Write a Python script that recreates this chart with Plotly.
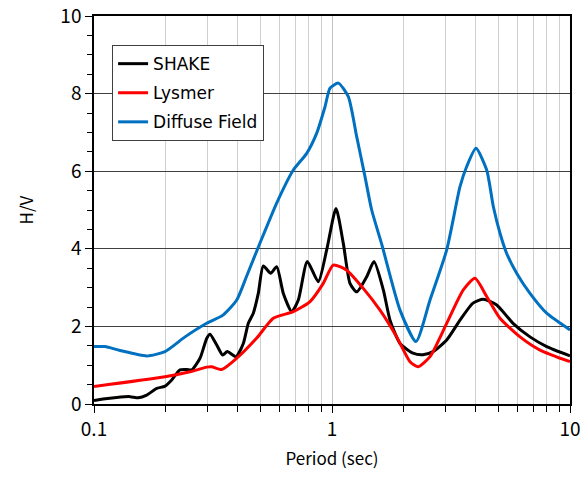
import plotly.graph_objects as go

# Period (sec) and H/V values
shake_T = [0.100, 0.1091, 0.1245, 0.1417, 0.1535, 0.1665, 0.1834, 0.1988, 0.2121, 0.2298,
           0.2452, 0.2573, 0.2789, 0.2975, 0.3071, 0.3278, 0.3474, 0.3632, 0.3951, 0.4240,
           0.4450, 0.4670, 0.4901, 0.5145, 0.5524, 0.5856, 0.6245, 0.6773, 0.7219, 0.7876,
           0.8758, 0.9498, 1.0394, 1.1156, 1.190, 1.270, 1.399, 1.501, 1.643, 1.753,
           1.931, 2.189, 2.412, 2.658, 3.033, 3.450, 3.911, 4.323, 4.921, 5.761,
           6.791, 7.98, 10.0]
shake_HV = [0.09, 0.13, 0.17, 0.19, 0.16, 0.23, 0.40, 0.46, 0.62, 0.88,
            0.89, 0.88, 1.18, 1.69, 1.80, 1.52, 1.26, 1.35, 1.22, 1.56,
            2.08, 2.34, 2.85, 3.56, 3.37, 3.54, 2.85, 2.38, 2.68, 3.67,
            3.15, 3.97, 5.04, 4.14, 3.11, 2.89, 3.28, 3.67, 2.94, 2.16,
            1.56, 1.31, 1.27, 1.35, 1.65, 2.16, 2.60, 2.70, 2.55, 2.08,
            1.73, 1.48, 1.24]

lysmer_T = [0.100, 0.1988, 0.2531, 0.2975, 0.3122, 0.344, 0.3978, 0.4827, 0.5666, 0.6878,
            0.8084, 0.919, 1.0127, 1.153, 1.353, 1.591, 1.870, 2.127, 2.305, 2.581,
            3.033, 3.562, 3.989, 4.467, 5.080, 6.166, 7.482, 10.0]
lysmer_HV = [0.45, 0.70, 0.83, 0.95, 0.96, 0.89, 1.18, 1.70, 2.21, 2.38,
             2.64, 3.11, 3.58, 3.45, 2.98, 2.42, 1.73, 1.09, 0.96, 1.22,
             2.08, 2.94, 3.24, 2.77, 2.21, 1.73, 1.39, 1.09]

diffuse_T = [0.100, 0.1112, 0.1286, 0.1665, 0.1988, 0.2413, 0.2975, 0.3483, 0.3978, 0.4382,
             0.4983, 0.5856, 0.6878, 0.7830, 0.8625, 0.9346, 0.9809, 1.0629, 1.1709, 1.270,
             1.376, 1.468, 1.6176, 1.931, 2.254, 2.581, 3.033, 3.450, 3.681, 4.027,
             4.467, 4.762, 5.080, 5.420, 5.970, 6.791, 7.98, 10.0]
diffuse_HV = [1.48, 1.48, 1.38, 1.24, 1.35, 1.73, 2.08, 2.29, 2.68, 3.30,
              4.15, 5.18, 6.03, 6.46, 6.98, 7.66, 8.14, 8.27, 7.92, 6.89,
              5.86, 5.00, 4.12, 2.42, 1.61, 2.68, 3.97, 5.60, 6.12, 6.59,
              6.03, 5.09, 4.40, 3.88, 3.37, 2.85, 2.34, 1.91]

series = [
    ("SHAKE", shake_T, shake_HV, "#000000"),
    ("Lysmer", lysmer_T, lysmer_HV, "#ff0000"),
    ("Diffuse Field", diffuse_T, diffuse_HV, "#0070c0"),
]

FONT = "Noto Sans CJK JP"

fig = go.Figure()
for i, (name, T, hv, col) in enumerate(series):
    fig.add_trace(go.Scatter(
        x=T, y=hv, mode="lines", name=name, legendgroup=f"g{i}",
        line=dict(color=col, width=3, shape="spline", smoothing=0.6),
    ))

fig.update_layout(
    width=588, height=479,
    margin=dict(l=94, r=18, t=16, b=75),
    paper_bgcolor="white", plot_bgcolor="white",
    font=dict(family=FONT, size=17, color="#000000"),
    showlegend=True,
    legend=dict(
        x=0.038, y=0.925, xanchor="left", yanchor="top",
        bgcolor="white", bordercolor="#404040", borderwidth=1,
        font=dict(family="DejaVu Sans", size=17),
        tracegroupgap=4, itemwidth=30,
    ),
    xaxis=dict(
        type="log", range=[-1, 1], automargin=False,
        tickvals=[0.1, 1, 10], ticktext=["0.1", "1", "10"],
        ticks="outside", ticklen=7, tickcolor="#000000",
        showgrid=True, gridcolor="#c0c0c0", gridwidth=1,
        minor=dict(tickvals=[0.2, 0.3, 0.4, 0.5, 0.6, 0.7, 0.8, 0.9,
                             2, 3, 4, 5, 6, 7, 8, 9],
                   ticks="outside", ticklen=6, tickcolor="#000000",
                   showgrid=True, gridcolor="#d0d0d0", gridwidth=1),
        showline=True, linecolor="#000000", linewidth=1.5, mirror=True,
        zeroline=False,
        title=dict(text="Period (sec)", font=dict(family=FONT, size=17), standoff=14),
        tickfont=dict(family=FONT, size=19),
    ),
    yaxis=dict(
        range=[0, 10], dtick=2, tick0=0, automargin=False,
        ticks="outside", ticklen=7, tickcolor="#000000",
        showgrid=True, gridcolor="#404040", gridwidth=1,
        minor=dict(dtick=0.5, ticks="outside", ticklen=5, tickcolor="#000000",
                   showgrid=False),
        showline=True, linecolor="#000000", linewidth=1.5, mirror=True,
        zeroline=False,
        title=dict(text="H/V", font=dict(family=FONT, size=17), standoff=22),
        tickfont=dict(family=FONT, size=19),
    ),
)

fig.write_html("out.html")
